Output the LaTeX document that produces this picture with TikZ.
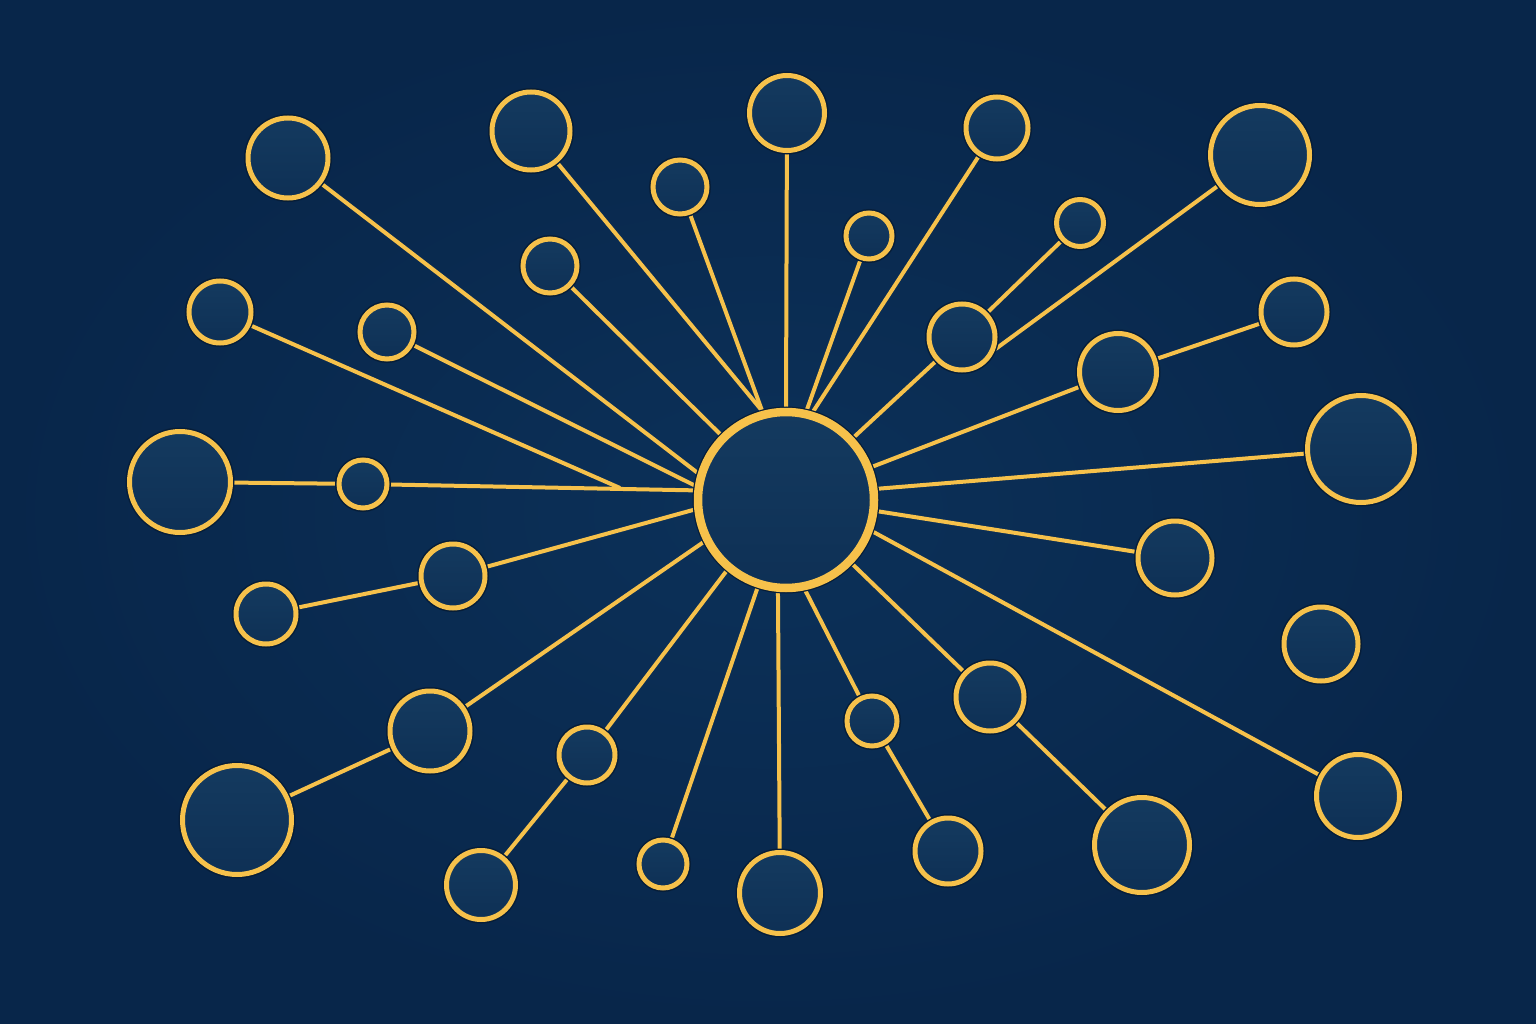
\documentclass[tikz,border=0pt]{standalone}
\pgfdeclarelayer{bg}
\pgfdeclarelayer{edges}
\pgfsetlayers{bg,edges,main}
\definecolor{gold}{HTML}{F6C14B}
\definecolor{halo}{HTML}{061D38}
\definecolor{fillt}{HTML}{143A5F}
\definecolor{fillb}{HTML}{0E3055}
\definecolor{bgin}{HTML}{0C3159}
\definecolor{bgout}{HTML}{08264A}
\tikzset{
  dot/.style={circle, inner sep=0pt, draw=gold, line width=5pt,
    top color=fillt, bottom color=fillb, minimum size=2*#1,
    preaction={draw=halo, line width=8pt}},
  hubdot/.style={circle, inner sep=0pt, draw=gold, line width=8.5pt,
    top color=fillt, bottom color=fillb, minimum size=2*#1,
    preaction={draw=halo, line width=11pt}},
  link/.style={draw=gold, line width=4pt},
}
\begin{document}
\begin{tikzpicture}[x=1pt,y=-1pt]
\useasboundingbox (0,0) rectangle (1536,1024);
\begin{pgfonlayer}{bg}
\shade[inner color=bgin, outer color=bgout] (0,0) rectangle (1536,1024);
\end{pgfonlayer}
\node[hubdot=88] (hub) at (786,500) {};
\node[dot=40] (c1) at (288,158) {};
\node[dot=39] (c2) at (531,131) {};
\node[dot=37.5] (c3) at (787,113) {};
\node[dot=31] (c4) at (997,128) {};
\node[dot=49.5] (c5) at (1260,155) {};
\node[dot=27] (c6) at (680,187) {};
\node[dot=23] (c7) at (869,236) {};
\node[dot=27] (c8) at (550,266) {};
\node[dot=23.5] (c9) at (1080,223) {};
\node[dot=33] (c10) at (962,337) {};
\node[dot=31] (c11) at (220,312) {};
\node[dot=27] (c12) at (387,332) {};
\node[dot=33] (c13) at (1294,312) {};
\node[dot=38.5] (c14) at (1118,372) {};
\node[dot=53.5] (c15) at (1361,449) {};
\node[dot=50.5] (c16) at (180,482) {};
\node[dot=24] (c17) at (363,484) {};
\node[dot=37] (c18) at (1175,558) {};
\node[dot=37] (c19) at (1321,644) {};
\node[dot=30] (c20) at (266,614) {};
\node[dot=32] (c21) at (453,576) {};
\node[dot=40] (c22) at (430,731) {};
\node[dot=54.5] (c23) at (237,820) {};
\node[dot=28] (c24) at (587,755) {};
\node[dot=34.5] (c25) at (481,885) {};
\node[dot=24] (c26) at (663,864) {};
\node[dot=40.5] (c27) at (780,893) {};
\node[dot=25] (c28) at (872,721) {};
\node[dot=33] (c29) at (948,851) {};
\node[dot=34] (c30) at (990,697) {};
\node[dot=47.5] (c31) at (1142,845) {};
\node[dot=41.5] (c32) at (1358,796) {};
\coordinate (m11) at (620,488);
\begin{pgfonlayer}{edges}
\draw[link] (c1) -- (hub.163);
\draw[link] (c2) -- (hub.105);
\draw[link] (c3) -- (hub.90);
\draw[link] (c4) -- (hub.73.5);
\draw[link] (c6) -- (hub.105);
\draw[link] (c7) -- (hub.77.5);
\draw[link] (c8) -- (hub.135);
\draw[link] (c10) -- (hub);
\draw[link] (c11) -- (m11);
\draw[link] (c12) -- (hub.171);
\draw[link] (c14) -- (hub);
\draw[link] (c15) -- (hub.7);
\draw[link] (c17) -- (hub.174.5);
\draw[link] (c18) -- (hub.-7.5);
\draw[link] (c21) -- (hub.-174);
\draw[link] (c22) -- (hub.-153);
\draw[link] (c24) -- (hub.-130);
\draw[link] (c26) -- (hub.-108);
\draw[link] (c27) -- (hub.-95);
\draw[link] (c28) -- (hub.-78);
\draw[link] (c30) -- (hub);
\draw[link] (c32) -- (hub.-20);
\draw[link] (c5) -- (c10.-20);
\draw[link] (c9) -- (c10);
\draw[link] (c13) -- (c14);
\draw[link] (c16) -- (c17);
\draw[link] (c20) -- (c21);
\draw[link] (c23) -- (c22);
\draw[link] (c25) -- (c24);
\draw[link] (c29) -- (c28);
\draw[link] (c31) -- (c30);
\end{pgfonlayer}
\end{tikzpicture}
\end{document}
